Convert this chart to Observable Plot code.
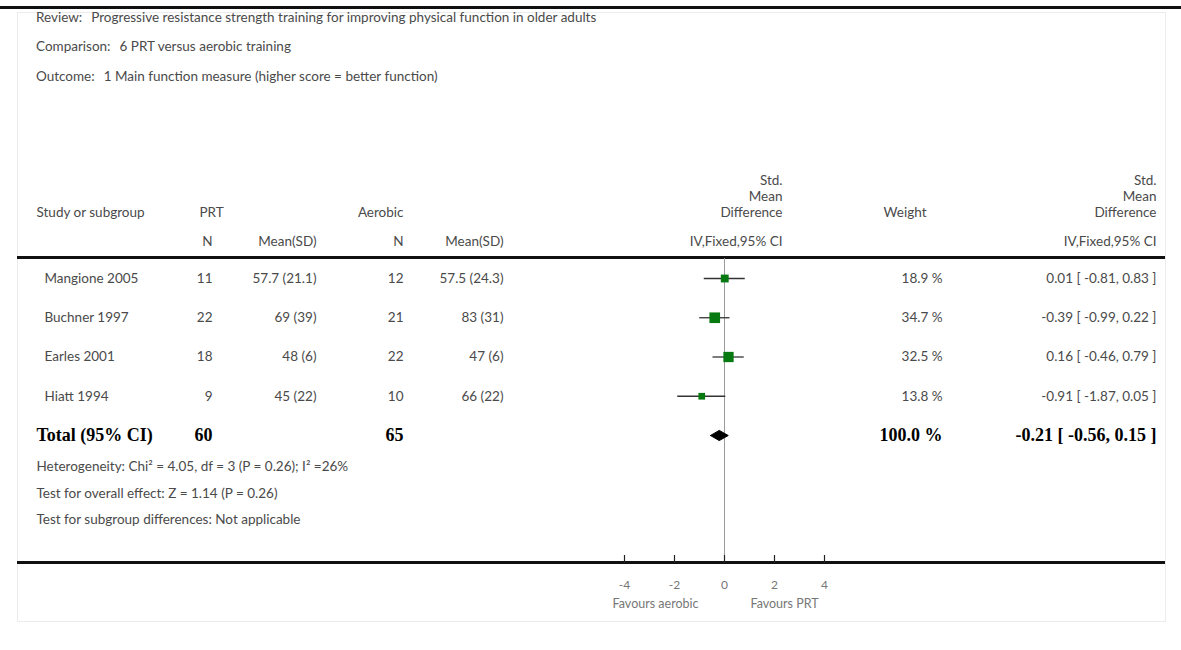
<!DOCTYPE html>
<html>
<head>
<meta charset="utf-8">
<script src="https://cdn.jsdelivr.net/npm/d3@7"></script>
<script src="https://cdn.jsdelivr.net/npm/@observablehq/plot@0.6"></script>
<style>
  body { margin: 0; background: #fff; }
  #wrap { position: relative; width: 1181px; height: 650px; overflow: hidden; background: #fff;
          font-family: Lato, "Open Sans", sans-serif; color: #4a4a4a; }
  .topline { position: absolute; left: 0; top: 6px; width: 1181px; height: 3px; background: #111; }
  .box { position: absolute; left: 17px; top: 12px; width: 1147px; height: 608px; border: 1px solid #ececec; }
  .meta { position: absolute; left: 36px; font-size: 13.5px; white-space: nowrap; }
  .meta span { margin-right: 9px; }
  .hline { position: absolute; left: 17px; width: 1148px; background: #111; }
  #chart { position: absolute; left: 0; top: 0; }
</style>
</head>
<body>
<div id="wrap">
  <div class="topline"></div>
  <div class="box"></div>
  <div class="meta" id="m0" style="top:9px"></div>
  <div class="meta" id="m1" style="top:38px"></div>
  <div class="meta" id="m2" style="top:68px"></div>
  <div class="hline" style="top:256px;height:3px"></div>
  <div class="hline" style="top:561px;height:3px"></div>
  <div id="chart"></div>
</div>
<script>
// ---------- data ----------
const metaLabels = ["Review:", "Comparison:", "Outcome:"];
const metaTexts = [
  "Progressive resistance strength training for improving physical function in older adults",
  "6 PRT versus aerobic training",
  "1 Main function measure (higher score = better function)"
];
const studies = ["Mangione 2005", "Buchner 1997", "Earles 2001", "Hiatt 1994"];
const prtN = [11, 22, 18, 9];
const prtMeanSD = ["57.7 (21.1)", "69 (39)", "48 (6)", "45 (22)"];
const aerN = [12, 21, 22, 10];
const aerMeanSD = ["57.5 (24.3)", "83 (31)", "47 (6)", "66 (22)"];
const smd = [0.01, -0.39, 0.16, -0.91];
const ciLow = [-0.81, -0.99, -0.46, -1.87];
const ciHigh = [0.83, 0.22, 0.79, 0.05];
const weights = [18.9, 34.7, 32.5, 13.8];

const totalLabel = "Total (95% CI)";
const totalPrtN = 60;
const totalAerN = 65;
const totalSmd = -0.21;
const totalLow = -0.56;
const totalHigh = 0.15;
const totalWeight = 100.0;

const footnotes = [
  "Heterogeneity: Chi\u00B2 = 4.05, df = 3 (P = 0.26); I\u00B2 =26%",
  "Test for overall effect: Z = 1.14 (P = 0.26)",
  "Test for subgroup differences: Not applicable"
];
const axisTicks = [-4, -2, 0, 2, 4];
const favoursLabels = ["Favours aerobic", "Favours PRT"];

// ---------- header meta lines ----------
metaLabels.forEach((l, i) => {
  const el = document.getElementById("m" + i);
  const s = document.createElement("span"); s.textContent = l;
  el.appendChild(s);
  el.appendChild(document.createTextNode(metaTexts[i]));
});

// ---------- layout (styles, not data) ----------
const col = { name: 44, total: 36, prtN: 212, prtMean: 316, aerN: 403, aerMean: 503,
              smdHead: 782, weight: 942, weightHead: 926, ci: 1156 };
const hdr = { l1: -83, l2: -67, l3: -51, l4: -22 };
const fmt = v => v.toFixed(2);
const ciText = (e, lo, hi) => `${fmt(e)} [ ${fmt(lo)}, ${fmt(hi)} ]`;

const rows = studies.map((s, i) => ({
  i, name: s, prtN: prtN[i], prtMeanSD: prtMeanSD[i], aerN: aerN[i], aerMeanSD: aerMeanSD[i],
  smd: smd[i], lo: ciLow[i], hi: ciHigh[i], weight: weights[i],
  wText: `${weights[i].toFixed(1)} %`, ciText: ciText(smd[i], ciLow[i], ciHigh[i])
}));
const totalRow = { i: rows.length, name: totalLabel, prtN: totalPrtN, aerN: totalAerN,
  smd: totalSmd, lo: totalLow, hi: totalHigh,
  wText: `${totalWeight.toFixed(1)} %`, ciText: ciText(totalSmd, totalLow, totalHigh) };
const dh = 0.13; // diamond half-height in row units
const diamond = [
  { x: totalRow.lo, y: totalRow.i }, { x: totalRow.smd, y: totalRow.i - dh },
  { x: totalRow.hi, y: totalRow.i }, { x: totalRow.smd, y: totalRow.i + dh },
  { x: totalRow.lo, y: totalRow.i }
];

const headerItems = [
  { t: "Study or subgroup", dx: 36, dy: hdr.l3, a: "start" },
  { t: "PRT", dx: 199, dy: hdr.l3, a: "start" },
  { t: "N", dx: col.prtN, dy: hdr.l4, a: "end" },
  { t: "Mean(SD)", dx: col.prtMean, dy: hdr.l4, a: "end" },
  { t: "Aerobic", dx: col.aerN, dy: hdr.l3, a: "end" },
  { t: "N", dx: col.aerN, dy: hdr.l4, a: "end" },
  { t: "Mean(SD)", dx: col.aerMean, dy: hdr.l4, a: "end" },
  { t: "Std.", dx: col.smdHead, dy: hdr.l1, a: "end" },
  { t: "Mean", dx: col.smdHead, dy: hdr.l2, a: "end" },
  { t: "Difference", dx: col.smdHead, dy: hdr.l3, a: "end" },
  { t: "IV,Fixed,95% CI", dx: col.smdHead, dy: hdr.l4, a: "end" },
  { t: "Weight", dx: col.weightHead, dy: hdr.l3, a: "end" },
  { t: "Std.", dx: col.ci, dy: hdr.l1, a: "end" },
  { t: "Mean", dx: col.ci, dy: hdr.l2, a: "end" },
  { t: "Difference", dx: col.ci, dy: hdr.l3, a: "end" },
  { t: "IV,Fixed,95% CI", dx: col.ci, dy: hdr.l4, a: "end" }
];

const txt = "#4a4a4a";
const fs = 13.5;
const colText = (field, dx, anchor) =>
  Plot.text(rows, { y: "i", text: field, frameAnchor: "left", dx, textAnchor: anchor, fill: txt, fontSize: fs });
const totText = (field, dx, anchor) =>
  Plot.text([totalRow], { y: "i", text: field, frameAnchor: "left", dx, textAnchor: anchor, fill: "#000",
    fontSize: 18, fontWeight: "bold", fontFamily: "Liberation Serif, serif" });

const chart = Plot.plot({
  width: 1181, height: 650,
  margin: 0, marginTop: 258, marginBottom: 87,
  x: { domain: [-4, 4], range: [624, 824], axis: null },
  y: { domain: [0, 4], range: [278, 435], axis: null },
  r: { domain: [0, 34.7], range: [0, 6] },
  style: { fontFamily: "Lato, 'Open Sans', sans-serif", background: "transparent", overflow: "visible" },
  marks: [
    // header
    ...headerItems.map(h => Plot.text([h.t], { text: d => d, frameAnchor: "top-left", dx: h.dx, dy: h.dy,
      textAnchor: h.a, fill: txt, fontSize: fs })),
    // zero line
    Plot.ruleX([0], { stroke: "#9a9a9a", strokeWidth: 1 }),
    // CIs and squares
    Plot.ruleY(rows, { y: "i", x1: "lo", x2: "hi", stroke: "#333", strokeWidth: 1.3 }),
    Plot.dot(rows, { x: "smd", y: "i", r: "weight", symbol: "square", fill: "#067a10", stroke: "none" }),
    // diamond
    Plot.line(diamond, { x: "x", y: "y", fill: "#000", stroke: "#000", strokeWidth: 1 }),
    // table columns
    colText("name", col.name, "start"),
    colText("prtN", col.prtN, "end"),
    colText("prtMeanSD", col.prtMean, "end"),
    colText("aerN", col.aerN, "end"),
    colText("aerMeanSD", col.aerMean, "end"),
    colText("wText", col.weight, "end"),
    colText("ciText", col.ci, "end"),
    // total row
    totText("name", col.total, "start"),
    totText("prtN", col.prtN, "end"),
    totText("aerN", col.aerN, "end"),
    totText("wText", col.weight, "end"),
    totText("ciText", col.ci, "end"),
    // footnotes
    ...footnotes.map((f, k) => Plot.text([f], { text: d => d, frameAnchor: "top-left", dx: 36, dy: 203 + k * 26.5,
      textAnchor: "start", fill: txt, fontSize: 13.5 })),
    // axis ticks and labels
    Plot.ruleX(axisTicks, { x: d => d, insetTop: 297, stroke: "#222", strokeWidth: 1.2 }),
    Plot.text(axisTicks, { x: d => d, text: d => String(d), frameAnchor: "bottom", dy: 25, fill: "#777", fontSize: 12 }),
    Plot.text([favoursLabels[0]], { x: 0, text: d => d, frameAnchor: "bottom", dy: 44, dx: -26, textAnchor: "end", fill: "#777", fontSize: 12.5 }),
    Plot.text([favoursLabels[1]], { x: 0, text: d => d, frameAnchor: "bottom", dy: 44, dx: 26, textAnchor: "start", fill: "#777", fontSize: 12.5 })
  ]
});
document.getElementById("chart").appendChild(chart);
</script>
</body>
</html>
